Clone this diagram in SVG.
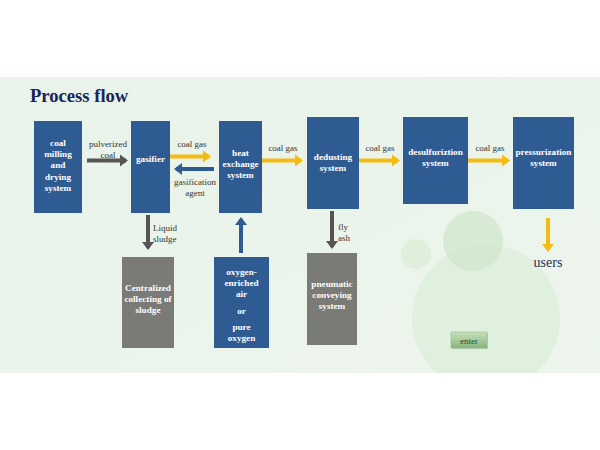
<svg xmlns="http://www.w3.org/2000/svg" width="600" height="450" viewBox="0 0 600 450">
<defs>
<style>
.bx{fill:#2F5B93;}
.gx{fill:#7A7A77;}
.bt{font-family:"Liberation Serif",serif;font-weight:bold;font-size:9.2px;fill:#FFFFFF;text-anchor:middle;}
.lb{font-family:"Liberation Serif",serif;font-size:9px;fill:#333333;}
.lbc{text-anchor:middle;}
.ya{stroke:#F5BB12;stroke-width:4;fill:none;}
.ga{stroke:#555555;stroke-width:4;fill:none;}
.ba{stroke:#2F5B93;stroke-width:4;fill:none;}
</style>
<marker id="hy" markerWidth="4" markerHeight="4" refX="1.5" refY="2" orient="auto" markerUnits="strokeWidth"><path d="M0,0.5 L2,2 L0,3.5 Z" fill="#F5BB12"/></marker>
<marker id="hg" markerWidth="4" markerHeight="4" refX="1.5" refY="2" orient="auto" markerUnits="strokeWidth"><path d="M0,0.5 L2,2 L0,3.5 Z" fill="#555555"/></marker>
<marker id="hb" markerWidth="4" markerHeight="4" refX="1.5" refY="2" orient="auto" markerUnits="strokeWidth"><path d="M0,0.5 L2,2 L0,3.5 Z" fill="#2F5B93"/></marker>
<linearGradient id="bg" x1="0" y1="0" x2="1" y2="1">
<stop offset="0" stop-color="#E9F3EA"/><stop offset="1" stop-color="#EDF5EC"/>
</linearGradient>
<linearGradient id="btn" x1="0" y1="0" x2="0" y2="1">
<stop offset="0" stop-color="#C6E0BC"/><stop offset="0.5" stop-color="#A7CC9C"/><stop offset="1" stop-color="#86B47C"/>
</linearGradient>
<clipPath id="pc"><rect x="0" y="77" width="600" height="296"/></clipPath>
</defs>
<rect x="0" y="0" width="600" height="450" fill="#FFFFFF"/>
<rect x="0" y="77" width="600" height="296" fill="url(#bg)"/>
<g id="decor" clip-path="url(#pc)">
<circle cx="486" cy="318" r="74" fill="#D8EDD6" opacity="0.6"/>
<circle cx="473" cy="241" r="30" fill="#CFE6CB" opacity="0.7"/>
<circle cx="416" cy="254" r="15" fill="#D9ECD5" opacity="0.7"/>
</g>
<text x="30" y="102" style="font-family:'Liberation Serif',serif;font-weight:bold;font-size:18.6px;fill:#14265A;">Process flow</text>

<g id="connectors">
<line class="ga" x1="87" y1="160.5" x2="126" y2="160.5" marker-end="url(#hg)"/>
<line class="ya" x1="170" y1="156.5" x2="209" y2="156.5" marker-end="url(#hy)"/>
<line class="ba" x1="214" y1="169" x2="176" y2="169" marker-end="url(#hb)"/>
<line class="ya" x1="262" y1="160.5" x2="301" y2="160.5" marker-end="url(#hy)"/>
<line class="ya" x1="359" y1="160.5" x2="398" y2="160.5" marker-end="url(#hy)"/>
<line class="ya" x1="468" y1="160.5" x2="508" y2="160.5" marker-end="url(#hy)"/>
<line class="ga" x1="148" y1="215" x2="148" y2="248" marker-end="url(#hg)"/>
<line class="ba" x1="241" y1="253" x2="241" y2="219" marker-end="url(#hb)"/>
<line class="ga" x1="332" y1="211" x2="332" y2="247" marker-end="url(#hg)"/>
<line class="ya" x1="548" y1="218" x2="548" y2="250" marker-end="url(#hy)"/>
<text class="lb lbc" x="108" y="147">pulverized</text>
<text class="lb lbc" x="108" y="158">coal</text>
<text class="lb lbc" x="192" y="147">coal gas</text>
<text class="lb lbc" x="195" y="185">gasification</text>
<text class="lb lbc" x="195" y="196">agent</text>
<text class="lb lbc" x="283" y="151">coal gas</text>
<text class="lb lbc" x="380" y="151">coal gas</text>
<text class="lb lbc" x="490" y="151">coal gas</text>
<text class="lb" x="153" y="231">Liquid</text>
<text class="lb" x="153" y="242">sludge</text>
<text class="lb" x="338" y="230">fly</text>
<text class="lb" x="338" y="241">ash</text>
</g>

<g id="coal-milling">
<rect class="bx" x="34" y="121" width="48" height="92"/>
<text class="bt" x="58" y="146">coal</text>
<text class="bt" x="58" y="157">milling</text>
<text class="bt" x="58" y="168">and</text>
<text class="bt" x="58" y="180">drying</text>
<text class="bt" x="58" y="191">system</text>
</g>
<g id="gasifier">
<rect class="bx" x="131" y="121" width="39" height="92"/>
<text class="bt" x="150.5" y="162">gasifier</text>
</g>
<g id="heat-exchange">
<rect class="bx" x="219" y="121" width="43" height="92"/>
<text class="bt" x="240.5" y="156">heat</text>
<text class="bt" x="240.5" y="167">exchange</text>
<text class="bt" x="240.5" y="178">system</text>
</g>
<g id="dedusting">
<rect class="bx" x="307" y="117" width="52" height="92"/>
<text class="bt" x="333" y="160">dedusting</text>
<text class="bt" x="333" y="171">system</text>
</g>
<g id="desulfurization">
<rect class="bx" x="403" y="117" width="65" height="87"/>
<text class="bt" x="435.5" y="155">desulfuriztion</text>
<text class="bt" x="435.5" y="166">system</text>
</g>
<g id="pressurization">
<rect class="bx" x="513" y="117" width="61" height="92"/>
<text class="bt" x="543.5" y="155">pressurization</text>
<text class="bt" x="543.5" y="166">system</text>
</g>
<g id="sludge">
<rect class="gx" x="122" y="257" width="52" height="91"/>
<text class="bt" x="148" y="291">Centralized</text>
<text class="bt" x="148" y="302">collecting of</text>
<text class="bt" x="148" y="313">sludge</text>
</g>
<g id="oxygen">
<rect class="bx" x="214" y="257" width="55" height="91"/>
<text class="bt" x="241.5" y="275">oxygen-</text>
<text class="bt" x="241.5" y="286">enriched</text>
<text class="bt" x="241.5" y="297">air</text>
<text class="bt" x="241.5" y="314">or</text>
<text class="bt" x="241.5" y="330">pure</text>
<text class="bt" x="241.5" y="341">oxygen</text>
</g>
<g id="pneumatic">
<rect class="gx" x="307" y="253" width="50" height="92"/>
<text class="bt" x="332" y="287">pneumatic</text>
<text class="bt" x="332" y="298">conveying</text>
<text class="bt" x="332" y="309">system</text>
</g>
<g id="users">
<text x="548" y="267" style="font-family:'Liberation Serif',serif;font-size:14px;fill:#1E2E55;text-anchor:middle;">users</text>
</g>
<g id="enter">
<rect x="452" y="333" width="36" height="16" fill="#7FA277" opacity="0.4"/>
<rect x="451" y="332" width="36" height="16" fill="url(#btn)" stroke="#8DB585" stroke-width="0.5"/>
<text x="469" y="343.5" style="font-family:'Liberation Serif',serif;font-size:9px;fill:#2E3E38;text-anchor:middle;">enter</text>
</g>
</svg>
